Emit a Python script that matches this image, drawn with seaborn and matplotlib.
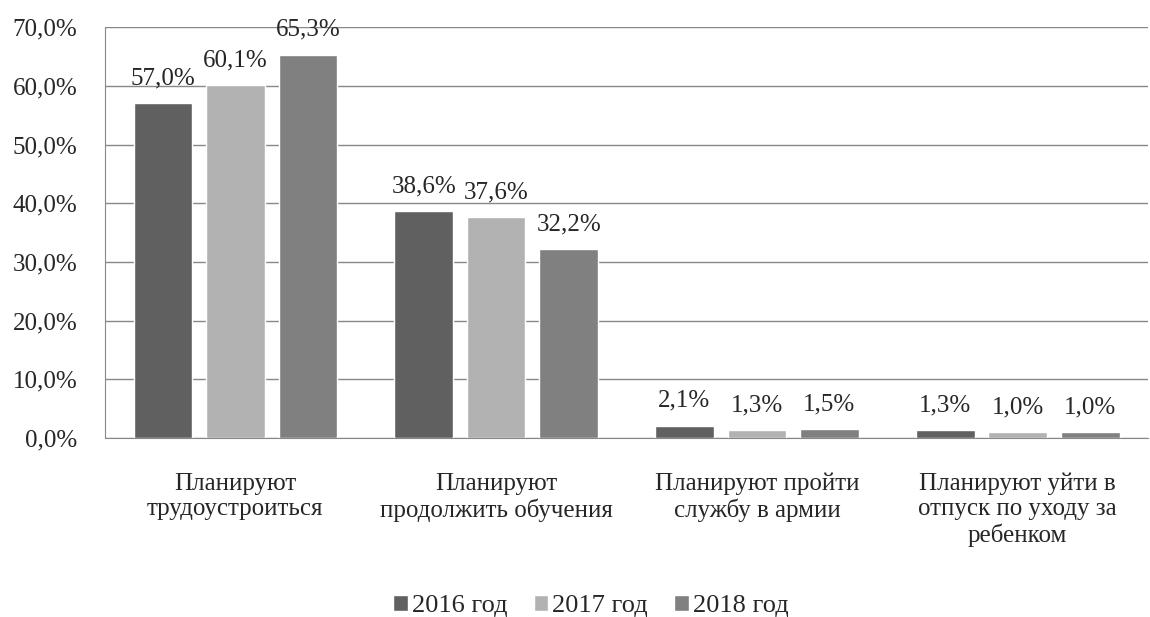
import pandas as pd
import matplotlib.pyplot as plt
import seaborn as sns

categories = ['Планируют\nтрудоустроиться', 'Планируют\nпродолжить обучения',
              'Планируют пройти\nслужбу в армии', 'Планируют уйти в\nотпуск по уходу за\nребенком']
years = ['2016 год', '2017 год', '2018 год']
v2016 = [57.0, 38.6, 2.1, 1.3]
v2017 = [60.1, 37.6, 1.3, 1.0]
v2018 = [65.3, 32.2, 1.5, 1.0]
colors = ['#606060', '#b2b2b2', '#808080']

rows = []
for yr, vals in zip(years, [v2016, v2017, v2018]):
    for c, v in zip(categories, vals):
        rows.append({'cat': c, 'year': yr, 'val': v})
df = pd.DataFrame(rows)

sns.set_style('white')
plt.rcParams['font.family'] = ['Liberation Serif', 'DejaVu Serif']
fs = 18

fig = plt.figure(figsize=(11.5, 6.17), dpi=100)
ax = fig.add_axes([0.0913, 0.29, 0.907, 0.666])
sns.barplot(data=df, x='cat', y='val', hue='year', palette=colors,
            width=0.834, gap=0.19, ax=ax, legend=True, saturation=1)

ax.set_ylim(0, 70)
ax.set_yticks(range(0, 71, 10))
ax.set_yticklabels([f'{t},0%' for t in range(0, 71, 10)], fontsize=fs)
ax.yaxis.grid(True, color='#888888', linewidth=1)
ax.set_axisbelow(True)
ax.tick_params(axis='y', length=0, pad=20)
ax.tick_params(axis='x', length=0, labelsize=fs, pad=25)
for t in ax.get_xticklabels():
    t.set_linespacing(1.18)
ax.set_xlabel('')
ax.set_ylabel('')
for s in ['top', 'right']:
    ax.spines[s].set_visible(False)
ax.spines['left'].set_color('#888888')
ax.spines['bottom'].set_color('#888888')

for cont in ax.containers:
    labels = [f'{v:.1f}%'.replace('.', ',') for v in cont.datavalues]
    ax.bar_label(cont, labels=labels, fontsize=fs, padding=10)

ax.legend(loc='center', bbox_to_anchor=(0.466, (1 - 606 / 617 - 0.29) / 0.666), ncol=3,
          frameon=False, fontsize=19, handlelength=0.55, handleheight=0.55,
          handletextpad=0.15, columnspacing=1.0)

fig.savefig('out.png', dpi=100)
